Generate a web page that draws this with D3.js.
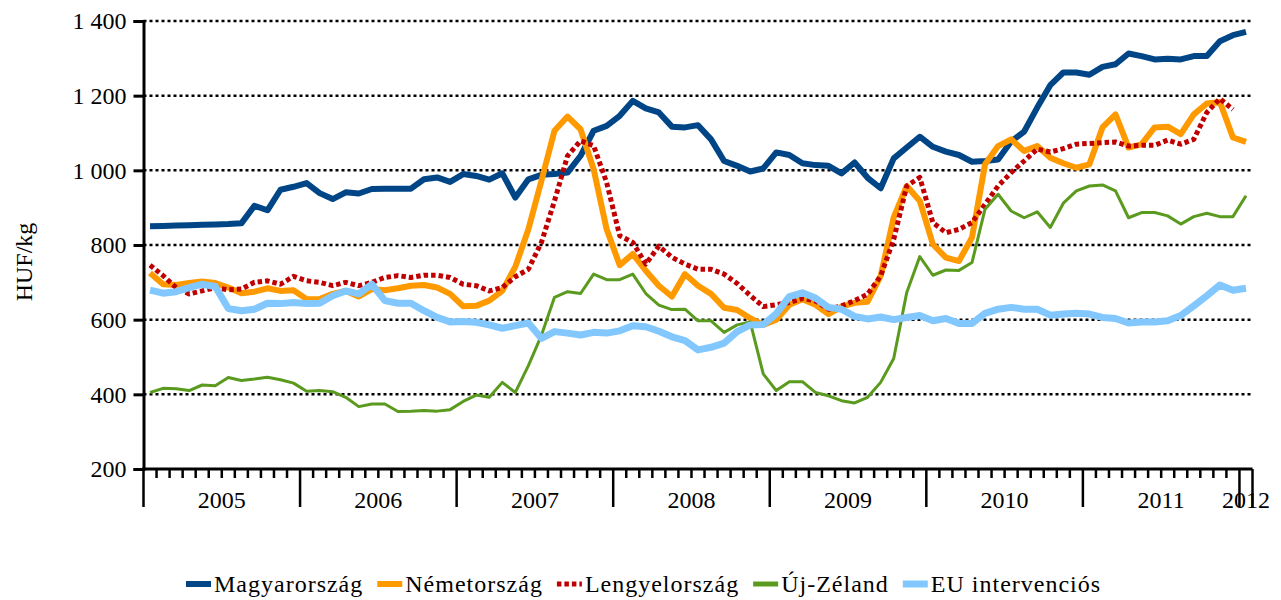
<!DOCTYPE html>
<html>
<head>
<meta charset="utf-8">
<script src="https://cdn.jsdelivr.net/npm/d3@7/dist/d3.min.js"></script>
<style>
  html, body { margin: 0; padding: 0; background: #fff; }
  svg { display: block; }
</style>
</head>
<body>
<svg id="chart" width="1281" height="600"></svg>
<script>
// ---- Data (monthly, Jan 2005 – Jan 2012) ----
const years = ["2005", "2006", "2007", "2008", "2009", "2010", "2011", "2012"];
const yTicks = [200, 400, 600, 800, 1000, 1200, 1400];

const seriesNames = ["Magyarország", "Németország", "Lengyelország", "Új-Zéland", "EU intervenciós"];

const magyarorszag = [
  850, 851, 852, 853, 854, 855, 856, 858, 905, 893, 948, 956,
  966, 939, 923, 941, 938, 950, 951, 951, 951, 976, 981, 969,
  990, 985, 975, 992, 927, 976, 988, 990, 994, 1039, 1106, 1119,
  1146, 1186, 1166, 1155, 1117, 1115, 1121, 1083, 1025, 1012, 997, 1005,
  1048, 1041, 1019, 1014, 1012, 992, 1021, 980, 952, 1032, 1061, 1090,
  1063, 1050, 1041, 1023, 1025, 1029, 1077, 1104, 1168, 1228, 1262, 1262,
  1256, 1277, 1284, 1313, 1306, 1297, 1299, 1297, 1306, 1306, 1346, 1362,
  1371
];
const nemetorszag = [
  725, 695, 693, 698, 702, 698, 686, 671, 675, 684, 677, 679,
  655, 655, 669, 677, 662, 682, 679, 684, 691, 693, 686, 669,
  636, 637, 651, 677, 742, 842, 972, 1106, 1144, 1110, 1003, 842,
  746, 776, 731, 691, 662, 722, 691, 669, 632, 626, 604, 586,
  600, 640, 655, 640, 615, 635, 645, 648, 717, 874, 958, 918,
  802, 766, 757, 820, 1016, 1065, 1083, 1052, 1065, 1034, 1019, 1007,
  1016, 1115, 1150, 1061, 1070, 1115, 1117, 1097, 1150, 1179, 1183, 1088,
  1076
];
const lengyelorszag = [
  746, 718, 686, 669, 677, 686, 680, 682, 700, 704, 695, 716,
  704, 700, 691, 700, 691, 700, 713, 718, 713, 719, 719, 713,
  695, 691, 677, 686, 715, 735, 807, 918, 1039, 1079, 1066, 967,
  825, 807, 749, 797, 767, 749, 735, 735, 722, 697, 665, 635,
  640, 646, 657, 650, 628, 637, 651, 668, 717, 815, 958, 981,
  860, 833, 842, 860, 909, 958, 994, 1025, 1057, 1049, 1058, 1070,
  1072, 1074, 1076, 1065, 1067, 1067, 1081, 1070, 1083, 1155, 1192, 1163,
  null
];
const ujZeland = [
  405, 416, 415, 410, 425, 423, 445, 437, 441, 446, 439, 430,
  408, 410, 407, 392, 367, 374, 374, 354, 355, 357, 355, 359,
  381, 398, 392, 432, 405, 477, 558, 660, 675, 670, 722, 707,
  707, 722, 670, 639, 627, 628, 597, 597, 566, 586, 594, 455,
  410, 434, 434, 405, 396, 383, 377, 392, 432, 496, 673, 769,
  719, 733, 732, 753, 896, 936, 891, 873, 889, 847, 912, 945,
  958, 961, 945, 873, 887, 887, 878, 856, 876, 885, 876, 876,
  932
];
const euIntervencios = [
  679, 671, 675, 686, 695, 689, 630, 624, 628, 644, 643, 646,
  643, 644, 664, 677, 669, 695, 651, 644, 644, 624, 606, 594,
  595, 593, 586, 577, 584, 591, 550, 568, 564, 559, 566, 564,
  570, 584, 581, 569, 554, 544, 519, 526, 537, 568, 586, 587,
  616, 662, 672, 658, 633, 628, 609, 602, 607, 600, 606, 611,
  597, 603, 590, 590, 617, 628, 633, 628, 628, 612, 615, 617,
  615, 606, 603, 591, 594, 594, 597, 611, 637, 664, 693, 679,
  684
];

// month categories (labels only)
const months = [];
for (let yr = 2005; yr <= 2012; yr++) {
  for (let m = 1; m <= 12; m++) {
    if (yr === 2012 && m > 1) break;
    months.push(yr + "-" + String(m).padStart(2, "0"));
  }
}

const series = [
  { name: seriesNames[0], values: magyarorszag,   color: "#004586", width: 6, dash: null },
  { name: seriesNames[1], values: nemetorszag,    color: "#FF9900", width: 6, dash: null },
  { name: seriesNames[2], values: lengyelorszag,  color: "#C00000", width: 5, dash: "4.5,3" },
  { name: seriesNames[3], values: ujZeland,       color: "#5A9A1E", width: 3, dash: null },
  { name: seriesNames[4], values: euIntervencios, color: "#82C8FF", width: 7, dash: null }
];

// ---- Layout ----
const FF = "'Liberation Serif', Tinos, 'Times New Roman', 'DejaVu Serif', serif";
const svg = d3.select("#chart").attr("font-family", FF);
const plotLeft = 143.5, plotRight = 1252.5, plotTop = 21, plotBottom = 469;
const FONT = 24;

const xScale = d3.scaleBand().domain(months).range([plotLeft, plotRight]).paddingInner(0).paddingOuter(0);
const yScale = d3.scaleLinear().domain([200, 1400]).range([plotBottom, plotTop]);
const cx = d => xScale(d) + xScale.bandwidth() / 2;

// gridlines (dotted)
svg.append("g").selectAll("line")
  .data(yTicks.filter(v => v > 200))
  .join("line")
  .attr("x1", plotLeft).attr("x2", plotRight)
  .attr("y1", d => yScale(d)).attr("y2", d => yScale(d))
  .attr("stroke", "#000").attr("stroke-width", 2.5)
  .attr("stroke-dasharray", "3,3");

// y axis
const yAxis = d3.axisLeft(yScale).tickValues(yTicks).tickSize(10).tickPadding(7)
  .tickFormat(d => d3.format(",")(d).replace(/,/g, " "));
const gy = svg.append("g").attr("transform", `translate(${plotLeft},0)`).call(yAxis);
gy.attr("font-family", FF).attr("font-size", FONT);
gy.select(".domain").attr("stroke", "#000").attr("stroke-width", 3);
gy.selectAll(".tick line").attr("stroke", "#000").attr("stroke-width", 3);
gy.selectAll(".tick text").attr("font-size", FONT).attr("font-family", FF).attr("fill", "#000");

// x axis line
svg.append("line")
  .attr("x1", plotLeft - 1.5).attr("x2", plotRight)
  .attr("y1", plotBottom).attr("y2", plotBottom)
  .attr("stroke", "#000").attr("stroke-width", 3);

// month ticks (minor) and year ticks (major)
const boundaries = months.map(m => xScale(m)).concat([plotRight]);
svg.append("g").selectAll("line")
  .data(boundaries)
  .join("line")
  .attr("x1", d => d).attr("x2", d => d)
  .attr("y1", plotBottom)
  .attr("y2", (d, i) => (i % 12 === 0 || i === boundaries.length - 1) ? plotBottom + 38 : plotBottom + 9)
  .attr("stroke", "#000").attr("stroke-width", 2.5);

// year labels centered in their month groups
svg.append("g").selectAll("text")
  .data(years)
  .join("text")
  .attr("x", yr => {
    const ms = months.filter(m => m.startsWith(yr));
    return (xScale(ms[0]) + xScale(ms[ms.length - 1]) + xScale.bandwidth()) / 2;
  })
  .attr("y", 508)
  .attr("text-anchor", "middle")
  .attr("font-size", FONT)
  .attr("font-family", FF)
  .text(d => d);

// y-axis title
svg.append("text")
  .attr("transform", "translate(24,262) rotate(-90)")
  .attr("text-anchor", "middle")
  .attr("dominant-baseline", "central")
  .attr("font-size", FONT)
  .attr("font-family", FF)
  .text("HUF/kg");

// lines
const line = d3.line()
  .defined(d => d.v !== null)
  .x(d => cx(d.m))
  .y(d => yScale(d.v))
  .curve(d3.curveLinear);

svg.append("g").selectAll("path")
  .data(series)
  .join("path")
  .attr("d", s => line(s.values.map((v, i) => ({ m: months[i], v }))))
  .attr("fill", "none")
  .attr("stroke", s => s.color)
  .attr("stroke-width", s => s.width)
  .attr("stroke-dasharray", s => s.dash)
  .attr("stroke-linejoin", "round");

// legend
const legend = svg.append("g");
let lx = 186;
const ly = 584;
series.forEach(s => {
  legend.append("line")
    .attr("x1", lx).attr("x2", lx + 25)
    .attr("y1", ly).attr("y2", ly)
    .attr("stroke", s.color)
    .attr("stroke-width", Math.max(s.width, 5))
    .attr("stroke-dasharray", s.dash);
  const t = legend.append("text")
    .attr("x", lx + 28).attr("y", ly + 8)
    .attr("font-size", FONT)
    .attr("font-family", FF)
    .attr("letter-spacing", 1)
    .text(s.name);
  lx += 28 + t.node().getComputedTextLength() + 14;
});
</script>
</body>
</html>
